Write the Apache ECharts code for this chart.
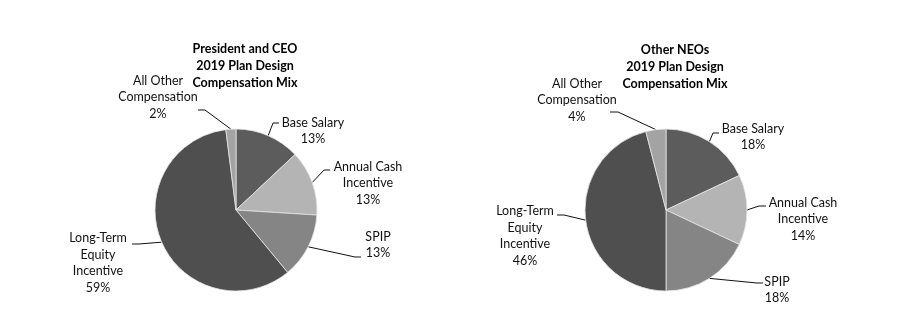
<!DOCTYPE html>
<html>
<head>
<meta charset="utf-8">
<script src="https://cdn.jsdelivr.net/npm/echarts@6/dist/echarts.min.js"></script>
<style>
html,body{margin:0;padding:0;background:#fff;}
#chart{width:901px;height:327px;}
</style>
</head>
<body>
<div id="chart"></div>
<script>
var categories = ['Base Salary', 'Annual Cash Incentive', 'SPIP', 'Long-Term Equity Incentive', 'All Other Compensation'];
var labelNames = ['Base Salary', 'Annual Cash\nIncentive', 'SPIP', 'Long-Term\nEquity\nIncentive', 'All Other\nCompensation'];
var ceoValues = [13, 13, 13, 59, 2];
var neoValues = [18, 14, 18, 46, 4];
var ceoTitle = 'President and CEO\n2019 Plan Design\nCompensation Mix';
var neoTitle = 'Other NEOs\n2019 Plan Design\nCompensation Mix';

var colors = ['#5c5c5c', '#b4b4b4', '#858585', '#4f4f4f', '#a3a3a3'];
// label centres
var labelPos = [
  [[313, 131], [368, 183], [378, 245], [98, 263], [158, 97]],
  [[753, 137], [803, 219], [777, 290], [525, 236], [577, 100]]
];
// leader line end (at label) and elbow point
var lineEnd = [
  [[[279, 123], [273, 123]], [[330, 170], [324, 170]], [[361, 257], [355, 257]], [[132, 244], [139, 244]], [[198, 110], [205, 110]]],
  [[[719, 133], [713, 133]], [[766, 206], [759, 206]], [[763, 283], [757, 283]], [[557, 215], [564, 215]], [[610, 112], [618, 112]]]
];
var FONT = 'Lato, "Open Sans", sans-serif';

function buildData(vals) {
  return categories.map(function (c, i) {
    return { name: c, value: vals[i], itemStyle: { color: colors[i] } };
  });
}

function series(vals, center, sIdx) {
  return {
    type: 'pie',
    center: center,
    radius: 81,
    startAngle: 90,
    clockwise: true,
    animation: false,
    itemStyle: { borderColor: '#e6e6e6', borderWidth: 0.8 },
    label: {
      show: true,
      position: 'outside',
      color: '#111',
      fontFamily: FONT,
      fontSize: 12.5,
      lineHeight: 16.5,
      align: 'center',
      formatter: function (p) { return labelNames[p.dataIndex] + '\n' + p.value + '%'; }
    },
    labelLine: { show: true, lineStyle: { color: '#111', width: 1 }, length: 10, length2: 10 },
    labelLayout: function (p) {
      var pos = labelPos[sIdx][p.dataIndex];
      var le = lineEnd[sIdx][p.dataIndex];
      var out = { x: pos[0], y: pos[1], align: 'center', verticalAlign: 'middle' };
      if (p.labelLinePoints && p.labelLinePoints.length) {
        out.labelLinePoints = [p.labelLinePoints[0].slice(), le[1].slice(), le[0].slice()];
      }
      return out;
    },
    data: buildData(vals)
  };
}

var chart = echarts.init(document.getElementById('chart'), null, { renderer: 'canvas' });
chart.setOption({
  backgroundColor: '#fff',
  title: [
    { text: ceoTitle, left: 245, top: 40, padding: 0, textAlign: 'center',
      textStyle: { fontFamily: FONT, fontSize: 12.5, fontWeight: 'bold', color: '#000', lineHeight: 17, align: 'center' } },
    { text: neoTitle, left: 675, top: 41, padding: 0, textAlign: 'center',
      textStyle: { fontFamily: FONT, fontSize: 12.5, fontWeight: 'bold', color: '#000', lineHeight: 17, align: 'center' } }
  ],
  series: [
    series(ceoValues, [236, 210], 0),
    series(neoValues, [666, 210], 1)
  ]
});
</script>
</body>
</html>
